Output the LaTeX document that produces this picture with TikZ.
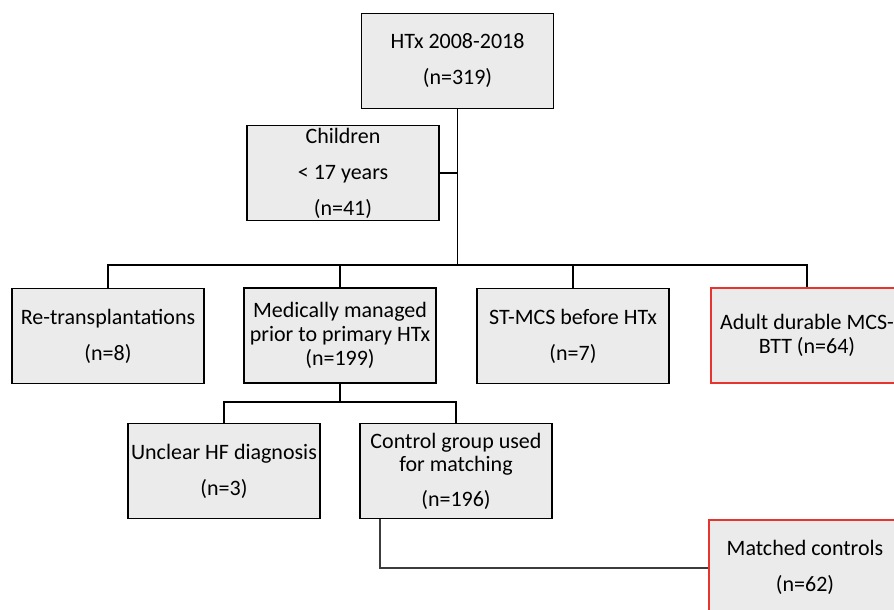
\documentclass[tikz,border=0pt]{standalone}
\usepackage{fontspec}
\setmainfont{Carlito}
\definecolor{boxfill}{RGB}{235,235,235}
\definecolor{redline}{RGB}{232,52,46}
\definecolor{linegray}{RGB}{60,60,60}
\begin{document}
\begin{tikzpicture}[x=0.75pt,y=-0.75pt,
  box/.style={draw=black,line width=1pt,fill=boxfill,minimum width=144pt,minimum height=71.25pt,
    inner sep=0pt,align=center,font=\fontsize{16.5}{27}\selectfont},
  tight/.style={font=\fontsize{16.5}{17.8}\selectfont},
  redbox/.style={draw=redline,line width=2.2pt},
  conn/.style={line width=1pt,draw=black},
  matchline/.style={line width=1.5pt,draw=linegray}]
\useasboundingbox (0,0) rectangle (894,610);
\fill[white] (0,0) rectangle (894,610);
\clip (0,0) rectangle (894,610);

\node[box] (htx) at (457.5,61) {HTx 2008-2018\\(n=319)};
\node[box] (child) at (343,173) {Children\\< 17 years\\(n=41)};
\node[box] (retx) at (108,336) {Re-transplantations\\(n=8)};
\node[box,tight] (med) at (340,335.5) {Medically managed\\prior to primary HTx\\(n=199)};
\node[box] (st) at (573,336) {ST-MCS before HTx\\(n=7)};
\node[box,tight,redbox] (adult) at (807,335.5) {Adult durable MCS-\\BTT (n=64)};
\node[box] (unc) at (224,471) {Unclear HF diagnosis\\(n=3)};
\node[box,tight] (ctrl) at (456,471) {Control group used\\for matching\\[8pt](n=196)};
\node[box,redbox] (match) at (805,567.5) {Matched controls\\(n=62)};

\coordinate (bus) at (457.5,265);
\coordinate (bus2) at (340,402);
\draw[conn] (htx.south) -- (bus);
\draw[conn] (child.east) -- (child.east -| htx.south);
\draw[conn] (retx.north) |- (bus) -| (adult.north);
\draw[conn] (med.north) -- (med.north |- bus);
\draw[conn] (st.north) -- (st.north |- bus);
\draw[conn] (med.south) -- (bus2);
\draw[conn] (unc.north) |- (bus2) -| (ctrl.north);
\draw[matchline] ([xshift=-57pt]ctrl.south) |- (match.west);
\end{tikzpicture}
\end{document}
